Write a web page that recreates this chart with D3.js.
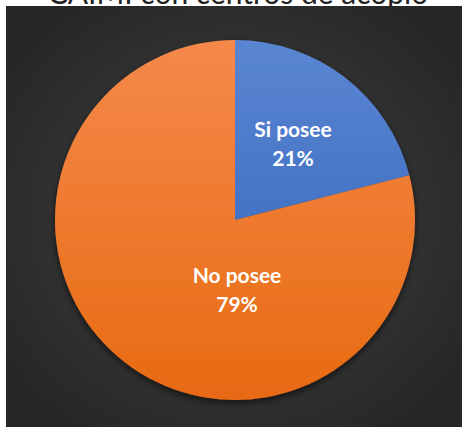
<!DOCTYPE html>
<html>
<head>
<meta charset="utf-8">
<script src="https://cdn.jsdelivr.net/npm/d3@7"></script>
<style>
  html, body { margin: 0; padding: 0; background: #ffffff; }
  svg { display: block; }
</style>
</head>
<body>
<svg id="chart" width="462" height="427"></svg>
<script>
// Share of CAIMI with a collection centre
const categories = ["Si posee", "No posee"];
const shares = [21, 79];
const percentLabels = ["21%", "79%"];
const titleText = "CAIMI con centros de acopio";

const W = 462, H = 427;
const svg = d3.select("#chart");
const defs = svg.append("defs");

// Dark panel with a soft radial glow
const bg = defs.append("radialGradient").attr("id", "bgGrad")
  .attr("cx", "50%").attr("cy", "50%").attr("r", "62%");
bg.append("stop").attr("offset", "0%").attr("stop-color", "#444444");
bg.append("stop").attr("offset", "100%").attr("stop-color", "#262626");

// Slice fills (lighter at the top, deeper at the bottom)
const fills = [
  { id: "gBlue", top: "#5a86d2", bottom: "#2f5fb8" },
  { id: "gOrange", top: "#f5894a", bottom: "#e86a12" }
];
const cx = 235, cy = 220, R = 180;
fills.forEach(f => {
  const g = defs.append("linearGradient").attr("id", f.id)
    .attr("gradientUnits", "userSpaceOnUse")
    .attr("x1", 0).attr("y1", -R).attr("x2", 0).attr("y2", R);
  g.append("stop").attr("offset", "0%").attr("stop-color", f.top);
  g.append("stop").attr("offset", "100%").attr("stop-color", f.bottom);
});

const shadow = defs.append("filter").attr("id", "pieShadow")
  .attr("x", "-20%").attr("y", "-20%").attr("width", "140%").attr("height", "140%");
shadow.append("feDropShadow").attr("dx", 0).attr("dy", 3).attr("stdDeviation", 3.5)
  .attr("flood-color", "#000").attr("flood-opacity", 0.6);

// Title (runs off the top edge)
svg.append("text")
  .attr("x", 238).attr("y", 4)
  .attr("text-anchor", "middle")
  .attr("font-family", "Lato, 'Open Sans', sans-serif")
  .attr("font-size", 30)
  .attr("fill", "#222")
  .text(titleText);

svg.append("rect")
  .attr("x", 6).attr("y", 6).attr("width", W - 6).attr("height", H - 6)
  .attr("fill", "url(#bgGrad)");

const pie = d3.pie().sort(null).value(d => d);
const arc = d3.arc().innerRadius(0).outerRadius(R);
const arcs = pie(shares);

const g = svg.append("g").attr("transform", `translate(${cx},${cy})`);
g.append("g").attr("filter", "url(#pieShadow)")
  .selectAll("path").data(arcs).join("path")
  .attr("d", arc)
  .attr("fill", (d, i) => `url(#${fills[i].id})`);

// Slice labels
const labelPos = [[58, -83], [2, 63]];
const lbl = g.selectAll("text.lbl").data(arcs).join("text")
  .attr("class", "lbl")
  .attr("text-anchor", "middle")
  .attr("font-family", "Lato, 'Open Sans', sans-serif")
  .attr("font-weight", "bold")
  .attr("font-size", 21)
  .attr("fill", "#ffffff")
  .attr("transform", (d, i) => `translate(${labelPos[i][0]},${labelPos[i][1]})`);
lbl.append("tspan").attr("x", 0).attr("y", 0).text((d, i) => categories[i]);
lbl.append("tspan").attr("x", 0).attr("y", 29).text((d, i) => percentLabels[i]);
</script>
</body>
</html>
